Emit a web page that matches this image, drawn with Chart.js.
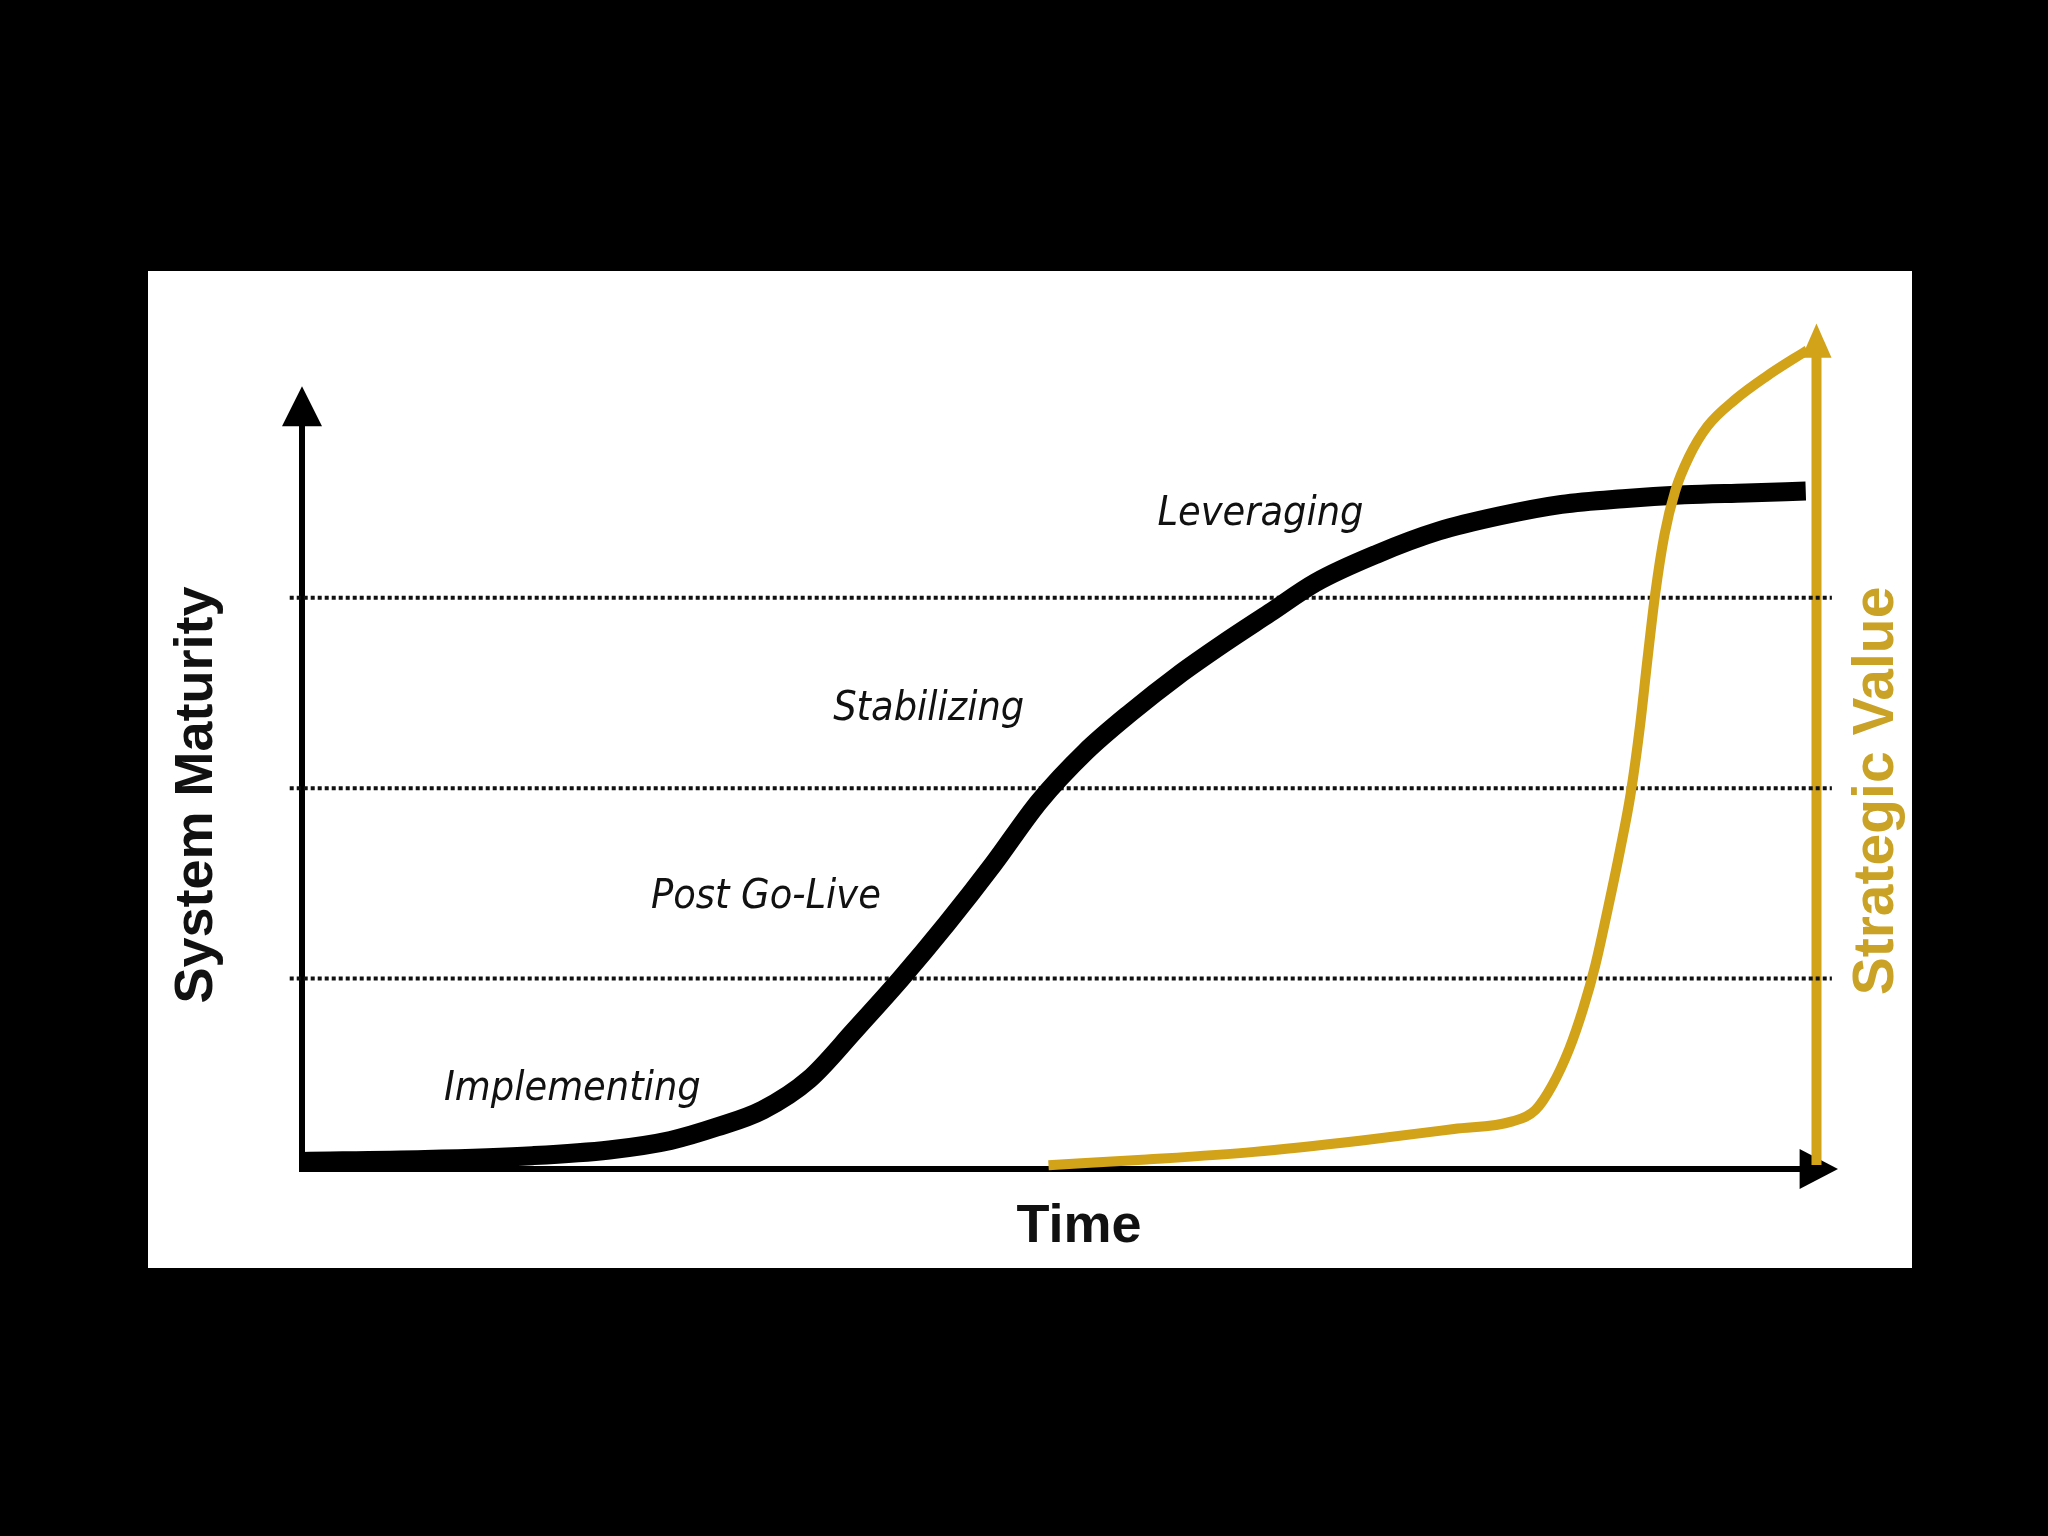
<!DOCTYPE html>
<html>
<head>
<meta charset="utf-8">
<title>System Maturity vs Strategic Value</title>
<script src="https://cdn.jsdelivr.net/npm/chart.js@4.4.1/dist/chart.umd.min.js"></script>
<style>
    html, body { margin: 0; padding: 0; background: #000; }
    #wrap { width: 2048px; height: 1536px; }
</style>
</head>
<body>
<div id="wrap"><canvas id="maturityChart" width="2048" height="1536"></canvas></div>
<script>
// Time runs 0..100 along the x axis, maturity levels are 0..4 on the y axis
const blackTime = [0, 8, 15, 20, 24, 27, 30, 33, 36, 39, 42, 45, 48, 51, 54, 57, 60, 63, 66, 70, 74, 78, 82, 86, 90, 94, 97.9];
const systemMaturity = [0.04, 0.05, 0.07, 0.10, 0.15, 0.22, 0.31, 0.47, 0.73, 1.00, 1.29, 1.60, 1.93, 2.19, 2.40, 2.59, 2.76,
    2.92, 3.08, 3.23, 3.35, 3.43, 3.49, 3.52, 3.54, 3.55, 3.56];

const goldTime = [48.6, 55, 62, 69, 75, 78.8, 80.3, 81.4, 82.5, 83.4, 84.2, 85.0, 85.8, 86.5, 87.1, 87.6, 88.1, 88.7,
    89.4, 90.3, 91.5, 93.3, 95.3, 98.0];
const strategicValue = [0.02, 0.05, 0.09, 0.15, 0.21, 0.25, 0.31, 0.44, 0.63, 0.84, 1.07, 1.36, 1.67, 1.97, 2.32, 2.68,
    3.02, 3.33, 3.56, 3.74, 3.90, 4.04, 4.16, 4.30];

// dotted level lines
const levels = [1, 2, 3];

// phase labels and where they sit (time, maturity)
const phaseNames = ["Implementing", "Post Go-Live", "Stabilizing", "Leveraging"];
const phaseAt = [[17.6, 0.36], [30.2, 1.37], [40.8, 2.36], [62.4, 3.38]];

const GOLD = '#D2A218';
const GOLD_TEXT = '#C9A226';

const toPoints = (xs, ys) => xs.map((x, i) => ({ x: x, y: ys[i] }));

const levelSets = levels.map(lvl => ({
    data: [{ x: -0.8, y: lvl }, { x: 99.6, y: lvl }],
    borderColor: '#111',
    borderWidth: 4,
    borderDash: [4, 3],
    pointRadius: 0,
    clip: false,
    order: 3
}));

const diagramPlugin = {
    id: 'diagram',
    beforeDraw(chart) {
        const ctx = chart.ctx;
        ctx.save();
        ctx.fillStyle = '#000';
        ctx.fillRect(0, 0, chart.width, chart.height);
        ctx.fillStyle = '#fff';
        ctx.fillRect(148, 271, 1764, 997);
        ctx.restore();
    },
    beforeDatasetsDraw(chart) {
        const ctx = chart.ctx;
        const xs = chart.scales.x, ys = chart.scales.y;
        const x0 = xs.getPixelForValue(0), y0 = ys.getPixelForValue(0);
        ctx.save();
        ctx.fillStyle = '#000';
        ctx.strokeStyle = '#000';
        ctx.lineWidth = 6;
        // y axis
        ctx.beginPath();
        ctx.moveTo(x0, y0 + 3);
        ctx.lineTo(x0, ys.getPixelForValue(3.92));
        ctx.stroke();
        ctx.beginPath();
        ctx.moveTo(x0, ys.getPixelForValue(4.11));
        ctx.lineTo(x0 - 20, ys.getPixelForValue(3.9));
        ctx.lineTo(x0 + 20, ys.getPixelForValue(3.9));
        ctx.closePath();
        ctx.fill();
        // x axis
        ctx.beginPath();
        ctx.moveTo(x0 - 3, y0);
        ctx.lineTo(xs.getPixelForValue(97.8), y0);
        ctx.stroke();
        ctx.beginPath();
        ctx.moveTo(xs.getPixelForValue(100), y0);
        ctx.lineTo(xs.getPixelForValue(97.5), y0 - 20);
        ctx.lineTo(xs.getPixelForValue(97.5), y0 + 20);
        ctx.closePath();
        ctx.fill();
        // strategic value axis
        const xg = xs.getPixelForValue(98.6);
        ctx.strokeStyle = GOLD;
        ctx.fillStyle = GOLD;
        ctx.lineWidth = 10;
        ctx.beginPath();
        ctx.moveTo(xg, y0 - 4);
        ctx.lineTo(xg, ys.getPixelForValue(4.28));
        ctx.stroke();
        ctx.beginPath();
        ctx.moveTo(xg, ys.getPixelForValue(4.44));
        ctx.lineTo(xg - 15, ys.getPixelForValue(4.26));
        ctx.lineTo(xg + 15, ys.getPixelForValue(4.26));
        ctx.closePath();
        ctx.fill();
        ctx.restore();
    },
    afterDatasetsDraw(chart) {
        const ctx = chart.ctx;
        const xs = chart.scales.x, ys = chart.scales.y;
        ctx.save();
        ctx.textAlign = 'center';
        ctx.textBaseline = 'alphabetic';

        // phase labels
        ctx.fillStyle = '#111';
        ctx.font = 'italic 41px "DejaVu Sans Condensed", "DejaVu Sans", sans-serif';
        phaseNames.forEach((name, i) => {
            ctx.fillText(name, xs.getPixelForValue(phaseAt[i][0]), ys.getPixelForValue(phaseAt[i][1]));
        });

        // axis titles
        ctx.font = 'bold 54px "Liberation Sans", Arial, sans-serif';
        ctx.fillText('Time', 1079, 1242);

        ctx.save();
        ctx.translate(212, 795);
        ctx.rotate(-Math.PI / 2);
        ctx.fillText('System Maturity', 0, 0);
        ctx.restore();

        ctx.save();
        ctx.fillStyle = GOLD_TEXT;
        ctx.font = 'bold 57px "Liberation Sans", Arial, sans-serif';
        ctx.translate(1893, 791);
        ctx.rotate(-Math.PI / 2);
        ctx.fillText('Strategic Value', 0, 0);
        ctx.restore();

        ctx.restore();
    }
};

const ctx = document.getElementById('maturityChart').getContext('2d');
new Chart(ctx, {
    type: 'line',
    data: {
        datasets: [
            {
                label: 'Strategic Value',
                data: toPoints(goldTime, strategicValue),
                borderColor: GOLD,
                borderWidth: 10,
                borderCapStyle: 'butt',
                cubicInterpolationMode: 'monotone',
                pointRadius: 0,
                clip: false,
                order: 1
            },
            {
                label: 'System Maturity',
                data: toPoints(blackTime, systemMaturity),
                borderColor: '#000',
                borderWidth: 19,
                borderCapStyle: 'butt',
                cubicInterpolationMode: 'monotone',
                pointRadius: 0,
                clip: false,
                order: 2
            },
            ...levelSets
        ]
    },
    options: {
        responsive: false,
        animation: false,
        devicePixelRatio: 1,
        layout: {
            padding: { left: 302, right: 210, top: 293, bottom: 367 }
        },
        scales: {
            x: { type: 'linear', min: 0, max: 100, display: false },
            y: { type: 'linear', min: 0, max: 4.6, display: false }
        },
        plugins: {
            legend: { display: false },
            tooltip: { enabled: false }
        }
    },
    plugins: [diagramPlugin]
});
</script>
</body>
</html>
